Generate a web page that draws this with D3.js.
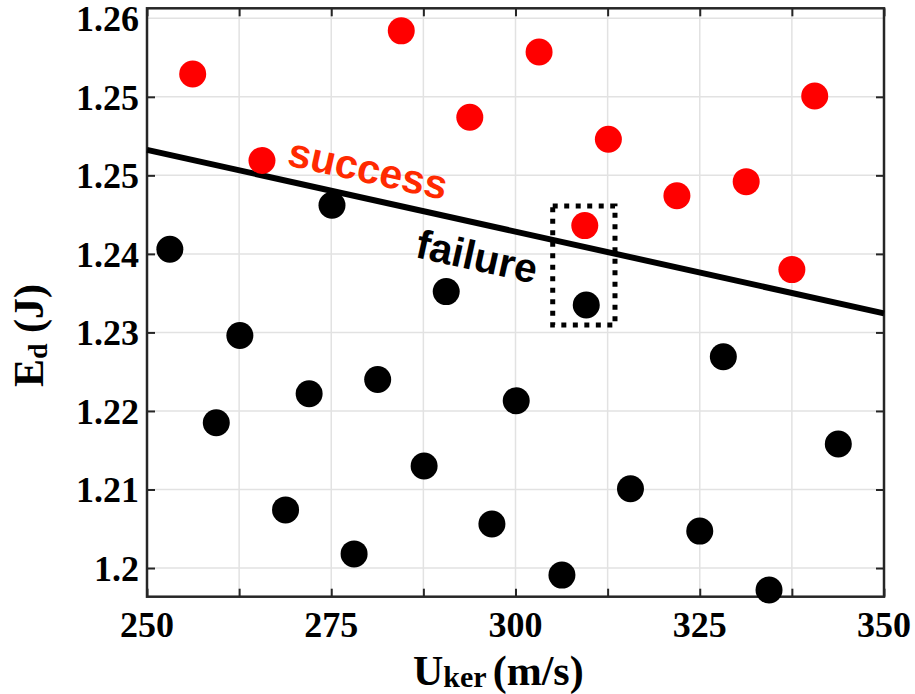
<!DOCTYPE html>
<html>
<head>
<meta charset="utf-8">
<script src="https://cdn.jsdelivr.net/npm/d3@7"></script>
<style>
  body { margin: 0; background: #fff; }
  svg { display: block; }
</style>
</head>
<body>
<svg id="chart" width="915" height="694"></svg>
<script>
// points: [U_ker, E_d]
const successPts = [
  [256.2, 1.2629], [284.5, 1.2684], [265.6, 1.2519], [293.8, 1.2574],
  [303.2, 1.2657], [312.6, 1.2546], [309.4, 1.2436], [321.9, 1.2474],
  [331.3, 1.2492], [340.6, 1.2601], [337.5, 1.2380]
];
const failurePts = [
  [253.1, 1.2406], [275.1, 1.2462], [290.6, 1.2352], [309.6, 1.2335],
  [262.6, 1.2296], [272.0, 1.2222], [281.3, 1.2240], [259.4, 1.2185],
  [300.1, 1.2213], [328.2, 1.2269], [287.6, 1.2130], [268.8, 1.2074],
  [278.1, 1.2018], [296.8, 1.2056], [306.3, 1.1991], [315.6, 1.2101],
  [325.0, 1.2047], [334.4, 1.1972], [343.8, 1.2158]
];
// boundary line and dotted box
const boundary = [[250, 1.25325], [350, 1.23242]];
const boxX = [305.05, 313.5];
const boxY = [1.23094, 1.2461];

const xTickValues = [250, 262.5, 275, 287.5, 300, 312.5, 325, 337.5, 350];
const xTickLabels = ["250", "", "275", "", "300", "", "325", "", "350"];
const yTickValues = [1.20, 1.21, 1.22, 1.23, 1.24, 1.25, 1.26, 1.27];
const yTickLabels = ["1.2", "1.21", "1.22", "1.23", "1.24", "1.25", "1.25", "1.26"];

const pL = 147, pR = 884, pT = 8.3, pB = 596.7;

const x = d3.scaleLinear().domain([250, 350]).range([pL, pR]);
const y = d3.scaleLinear().domain([1.19635, 1.27127]).range([pB, pT]);

const svg = d3.select("#chart");
const serif = "'Liberation Serif', 'Times New Roman', serif";
const sans = "'Liberation Sans', Arial, sans-serif";

// grid
svg.append("g").selectAll("line")
  .data(xTickValues).enter().append("line")
  .attr("x1", d => x(d)).attr("x2", d => x(d))
  .attr("y1", pT).attr("y2", pB)
  .attr("stroke", "#e2e2e2").attr("stroke-width", 1.5);
svg.append("g").selectAll("line")
  .data(yTickValues).enter().append("line")
  .attr("y1", d => y(d)).attr("y2", d => y(d))
  .attr("x1", pL).attr("x2", pR)
  .attr("stroke", "#e2e2e2").attr("stroke-width", 1.5);

// axes, ticks inward on all four sides
const tick = 8;
function styleAxis(g) {
  g.select(".domain").remove();
  g.selectAll(".tick line").attr("stroke", "#262626").attr("stroke-width", 2);
  g.selectAll(".tick text").remove();
}
svg.append("g").attr("transform", `translate(0,${pB})`)
  .call(d3.axisTop(x).tickValues(xTickValues).tickSize(tick)).call(styleAxis);
svg.append("g").attr("transform", `translate(0,${pT})`)
  .call(d3.axisBottom(x).tickValues(xTickValues).tickSize(tick)).call(styleAxis);
svg.append("g").attr("transform", `translate(${pL},0)`)
  .call(d3.axisRight(y).tickValues(yTickValues.slice(0, 7)).tickSize(tick)).call(styleAxis);
svg.append("g").attr("transform", `translate(${pR},0)`)
  .call(d3.axisLeft(y).tickValues(yTickValues.slice(0, 7)).tickSize(tick)).call(styleAxis);

// tick labels
svg.append("g").selectAll("text")
  .data(xTickValues).enter().append("text")
  .attr("x", d => x(d)).attr("y", 636.5)
  .attr("text-anchor", "middle")
  .style("font-family", serif).style("font-weight", "bold").style("font-size", "36px")
  .text((d, i) => xTickLabels[i]);
svg.append("g").selectAll("text")
  .data(yTickValues.slice(0, 8)).enter().append("text")
  .attr("x", 139).attr("y", d => y(d) + 13)
  .attr("text-anchor", "end")
  .style("font-family", serif).style("font-weight", "bold").style("font-size", "36px")
  .text((d, i) => yTickLabels[i]);

// frame
svg.append("rect")
  .attr("x", pL).attr("y", pT)
  .attr("width", pR - pL).attr("height", pB - pT)
  .attr("fill", "none").attr("stroke", "#262626").attr("stroke-width", 2.5);

// boundary
svg.append("line")
  .attr("x1", x(boundary[0][0])).attr("y1", y(boundary[0][1]))
  .attr("x2", x(boundary[1][0])).attr("y2", y(boundary[1][1]))
  .attr("stroke", "#000").attr("stroke-width", 6);

// points
svg.append("g").selectAll("circle")
  .data(failurePts).enter().append("circle")
  .attr("cx", d => x(d[0])).attr("cy", d => y(d[1])).attr("r", 13.5)
  .attr("fill", "#000");
svg.append("g").selectAll("circle")
  .data(successPts).enter().append("circle")
  .attr("cx", d => x(d[0])).attr("cy", d => y(d[1])).attr("r", 13.5)
  .attr("fill", "#ff0000");

// dotted box
svg.append("rect")
  .attr("x", x(boxX[0])).attr("y", y(boxY[1]))
  .attr("width", x(boxX[1]) - x(boxX[0])).attr("height", y(boxY[0]) - y(boxY[1]))
  .attr("fill", "none").attr("stroke", "#000")
  .attr("stroke-width", 5).attr("stroke-dasharray", "5,6.5");

// labels along the line
const angle = Math.atan2(y(boundary[1][1]) - y(boundary[0][1]), x(boundary[1][0]) - x(boundary[0][0])) * 180 / Math.PI;
function note(txt, ux, ey, color) {
  svg.append("text")
    .attr("transform", `translate(${x(ux)},${y(ey)}) rotate(${angle})`)
    .style("font-family", sans).style("font-weight", "bold").style("font-size", "41px")
    .attr("fill", color)
    .text(txt);
}
note("success", 268.86, 1.25132, "#ff2a00");
note("failure", 286.23, 1.2396, "#000");

// axis titles
const xl = svg.append("text").attr("x", 413).attr("y", 685)
  .style("font-family", serif).style("font-weight", "bold").style("font-size", "42px");
xl.append("tspan").text("U");
xl.append("tspan").attr("dy", 2).style("font-size", "30px").text("ker");
xl.append("tspan").attr("dy", -2).attr("dx", 6).text("(m/s)");

const yl = svg.append("text").attr("transform", "translate(43,387) rotate(-90)")
  .style("font-family", serif).style("font-weight", "bold").style("font-size", "42px");
yl.append("tspan").text("E");
yl.append("tspan").attr("dy", 4).style("font-size", "28px").text("d");
yl.append("tspan").attr("dy", -4).text(" (J)");
</script>
</body>
</html>
